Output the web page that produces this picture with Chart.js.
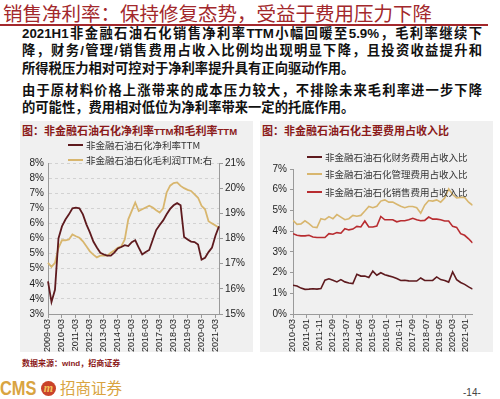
<!DOCTYPE html>
<html lang="zh-CN"><head><meta charset="utf-8">
<script src="https://cdn.jsdelivr.net/npm/chart.js@4.4.1/dist/chart.umd.min.js"></script>
<style>
html,body{margin:0;padding:0;background:#fff;width:500px;height:399px;overflow:hidden;position:relative;font-family:"Liberation Sans","Noto Sans CJK SC",sans-serif;}
.abs{position:absolute;white-space:nowrap;}
#title{left:3px;top:1px;font-size:19.5px;color:#A3282C;font-family:"Noto Sans CJK SC";line-height:24px;}
#rule{position:absolute;left:0;top:24px;width:488px;height:1.5px;background:#A3282C;}
.body{position:absolute;left:22px;width:460px;font-size:13.3px;font-weight:bold;color:#111;line-height:17px;font-family:"Liberation Sans","Noto Sans CJK SC",sans-serif;}
.just{text-align:justify;text-align-last:justify;}
.panel{position:absolute;top:121px;width:233px;height:231px;background:#f0f0f0;}
.ptitle{position:absolute;top:124px;font-size:11px;font-weight:bold;color:#8B1A1A;line-height:14px;white-space:nowrap;}
.ptitle .t{font-size:9.5px;}
.leg{position:absolute;font-size:9.5px;color:#333;line-height:12px;white-space:nowrap;font-family:"Noto Sans CJK SC","Liberation Sans",sans-serif;}
.leg i{display:inline-block;width:15px;height:2px;vertical-align:middle;margin-right:3px;position:relative;top:-1px;}
canvas{position:absolute;}
#src{left:22px;top:358px;font-size:8px;font-weight:bold;color:#8B1A1A;line-height:11px;}
#cms{left:0;top:376px;font-size:21px;font-weight:bold;color:#D9A441;line-height:24px;transform:scaleX(0.78);transform-origin:left center;}
#logo{position:absolute;left:41px;top:381px;width:15px;height:15px;border-radius:50%;background:#C9432A;color:#F3C35B;font-size:12px;line-height:14px;text-align:center;font-style:italic;font-weight:bold;font-family:"Liberation Serif",serif;}
#cmscn{left:60px;top:377px;font-size:15.5px;color:#D9A441;line-height:20px;font-family:"Noto Sans CJK SC";}
#page{left:463px;top:386px;font-size:10px;color:#444;line-height:14px;}
</style></head>
<body>
<div id="title" class="abs">销售净利率：保持修复态势，受益于费用压力下降</div>
<div id="rule"></div>
<div class="body just" style="top:24.5px">2021H1非金融石油石化销售净利率TTM小幅回暖至5.9%，毛利率继续下</div>
<div class="body just" style="top:42px">降，财务/管理/销售费用占收入比例均出现明显下降，且投资收益提升和</div>
<div class="body" style="top:59.5px">所得税压力相对可控对于净利率提升具有正向驱动作用。</div>
<div class="body just" style="top:81.5px">由于原材料价格上涨带来的成本压力较大，不排除未来毛利率进一步下降</div>
<div class="body" style="top:99px">的可能性，费用相对低位为净利率带来一定的托底作用。</div>

<div class="panel" style="left:20px"></div>
<div class="panel" style="left:260px"></div>
<div class="ptitle" style="left:22px">图：非金融石油石化净利率<span class="t">TTM</span>和毛利率<span class="t">TTM</span></div>
<div class="ptitle" style="left:262px">图：非金融石油石化主要费用占收入比</div>

<canvas id="cL" width="233" height="212" style="left:20px;top:140px"></canvas>
<canvas id="cR" width="233" height="212" style="left:260px;top:140px"></canvas>

<div class="leg" style="left:68px;top:139px"><i style="background:#5E1A1E"></i>非金融石油石化净利率TTM</div>
<div class="leg" style="left:68px;top:154px"><i style="background:#D8B66E"></i>非金融石油石化毛利润TTM:右</div>
<div class="leg" style="left:307px;top:151px"><i style="background:#5E1A1E"></i>非金融石油石化财务费用占收入比</div>
<div class="leg" style="left:307px;top:168px"><i style="background:#D8B66E"></i>非金融石油石化管理费用占收入比</div>
<div class="leg" style="left:307px;top:186px"><i style="background:#B82C30"></i>非金融石油石化销售费用占收入比</div>

<div id="src" class="abs">数据来源：wind，招商证券</div>
<div id="cms" class="abs">CMS</div>
<div id="logo">m</div>
<div id="cmscn" class="abs">招商证券</div>
<div id="page" class="abs">-14-</div>

<script>
// ---- Left chart data (quarterly) ----
const leftQuarters = ['2009-03','2009-06','2009-09','2009-12','2010-03','2010-06','2010-09','2010-12',
 '2011-03','2011-06','2011-09','2011-12','2012-03','2012-06','2012-09','2012-12',
 '2013-03','2013-06','2013-09','2013-12','2014-03','2014-06','2014-09','2014-12',
 '2015-03','2015-06','2015-09','2015-12','2016-03','2016-06','2016-09','2016-12',
 '2017-03','2017-06','2017-09','2017-12','2018-03','2018-06','2018-09','2018-12',
 '2019-03','2019-06','2019-09','2019-12','2020-03','2020-06','2020-09','2020-12',
 '2021-03','2021-06'];
const netMarginTTM = [4.08,3.40,3.80,5.50,5.90,6.13,6.30,6.50,
 6.52,6.50,6.30,5.97,5.70,5.40,5.20,5.03,
 4.97,4.93,4.93,5.03,5.17,5.22,5.28,5.25,
 5.38,5.44,5.20,4.97,5.05,5.12,5.45,5.78,
 5.95,6.10,6.30,6.48,6.60,6.67,6.60,5.55,
 5.47,5.40,5.38,5.30,4.80,4.86,5.05,5.20,
 5.60,5.90];
const grossMarginTTM = [17.03,16.87,17.03,17.63,17.93,17.93,17.96,18.16,
 18.09,18.03,17.89,17.69,17.49,17.36,17.25,17.32,
 17.32,17.32,17.43,17.52,17.63,17.69,17.96,18.76,
 19.10,19.43,19.09,19.16,19.23,19.30,19.23,19.12,
 19.03,19.20,19.83,20.10,20.20,20.23,20.09,20.00,
 19.93,19.89,19.75,19.62,19.30,19.16,18.69,18.60,
 18.52,18.43];
const leftTickLabels = ['2009-03','2010-03','2011-03','2012-03','2013-03','2014-03','2015-03',
 '2016-03','2017-03','2018-03','2019-03','2020-03','2021-03'];

// ---- Right chart data (quarterly, monthly date axis) ----
const rightQuarters = ['2010-03','2010-06','2010-09','2010-12','2011-03','2011-06','2011-09','2011-12',
 '2012-03','2012-06','2012-09','2012-12','2013-03','2013-06','2013-09','2013-12',
 '2014-03','2014-06','2014-09','2014-12','2015-03','2015-06','2015-09','2015-12',
 '2016-03','2016-06','2016-09','2016-12','2017-03','2017-06','2017-09','2017-12',
 '2018-03','2018-06','2018-09','2018-12','2019-03','2019-06','2019-09','2019-12',
 '2020-03','2020-06','2020-09','2020-12','2021-03','2021-06'];
const financeExpRatio = [1.39,1.35,1.25,1.19,1.20,1.22,1.20,1.23,
 1.63,1.70,1.63,1.55,1.66,1.55,1.50,1.47,
 1.92,1.83,1.83,1.76,2.07,1.87,1.99,1.90,
 1.84,1.79,1.71,1.62,1.63,1.60,1.59,1.59,
 1.74,1.62,1.62,1.62,1.79,1.66,1.62,1.54,
 2.03,1.66,1.52,1.43,1.31,1.20];
const adminExpRatio = [4.52,4.33,4.35,4.50,4.36,4.20,4.17,4.60,
 4.55,4.70,4.60,4.80,4.68,4.55,4.60,4.76,
 4.72,4.76,4.97,5.19,5.13,5.20,5.45,5.51,
 5.40,5.40,5.30,5.20,5.13,5.19,5.19,5.13,
 4.87,5.25,5.48,5.45,5.51,5.40,5.60,6.04,
 5.77,5.60,5.63,5.63,5.40,5.25];
const salesExpRatio = [3.88,3.80,3.77,3.77,3.80,3.72,3.69,3.69,
 3.69,3.88,3.85,3.93,3.90,4.12,4.06,4.10,
 4.23,4.20,4.49,4.20,4.20,4.25,4.71,4.55,
 4.55,4.55,4.45,4.50,4.50,4.55,4.62,4.55,
 4.50,4.52,4.68,4.58,4.58,4.55,4.49,4.49,
 4.23,4.18,3.88,3.80,3.63,3.43];
const rightTickLabels = ['2010-03','2011-01','2011-11','2012-09','2013-07','2014-05','2015-03',
 '2016-01','2016-11','2017-09','2018-07','2019-05','2020-03','2021-01'];

const C_NET = '#5E1A1E', C_GOLD = '#D8B66E', C_RED = '#B82C30';
const tickFont = {family:'"Liberation Sans", Arial, sans-serif', size:10};
const xFont = {family:'"Liberation Sans", Arial, sans-serif', size:9};
const AX = '#9a9a9a';

new Chart(document.getElementById('cL'), {
  type:'line',
  data:{labels:leftQuarters, datasets:[
    {label:'非金融石油石化净利率TTM', data:netMarginTTM, borderColor:C_NET, borderWidth:1.8, pointRadius:0, yAxisID:'y', tension:0},
    {label:'非金融石油石化毛利润TTM:右', data:grossMarginTTM, borderColor:C_GOLD, borderWidth:1.8, pointRadius:0, yAxisID:'y1', tension:0}
  ]},
  options:{
    responsive:false, animation:false, devicePixelRatio:1,
    layout:{padding:{top:23,left:0,right:0,bottom:0}},
    plugins:{legend:{display:false}, tooltip:{enabled:false}},
    scales:{
      x:{type:'category', offset:false,
        grid:{display:true, drawOnChartArea:false, tickLength:4, color:AX},
        border:{color:AX},
        ticks:{autoSkip:false, maxRotation:90, minRotation:90, padding:1, font:xFont, color:'#222',
          callback:function(v){ const l=this.getLabelForValue(v); return leftTickLabels.includes(l) ? l : null; }},
        afterFit:s=>{s.height=38;}
      },
      y:{position:'left', min:3, max:8,
        ticks:{stepSize:0.5, callback:v=>Math.round(v)+'%', padding:4, font:tickFont, color:'#222'},
        grid:{color:'#d2d2d2', drawTicks:false},
        border:{color:AX, dash:[3,3]},
        afterFit:s=>{s.width=28;}
      },
      y1:{position:'right', min:15, max:21,
        ticks:{stepSize:1, callback:v=>v+'%', padding:2, font:tickFont, color:'#222'},
        grid:{drawOnChartArea:false, tickLength:4, color:AX},
        border:{color:AX},
        afterFit:s=>{s.width=34;}
      }
    }
  }
});

function monthIndex(s){ const p=s.split('-'); return (parseInt(p[0])-2010)*12 + (parseInt(p[1])-3); }
const toXY = arr => rightQuarters.map((q,i)=>({x:monthIndex(q), y:arr[i]}));

new Chart(document.getElementById('cR'), {
  type:'line',
  data:{datasets:[
    {label:'非金融石油石化财务费用占收入比', data:toXY(financeExpRatio), borderColor:C_NET, borderWidth:1.6, pointRadius:0, tension:0},
    {label:'非金融石油石化管理费用占收入比', data:toXY(adminExpRatio), borderColor:C_GOLD, borderWidth:1.6, pointRadius:0, tension:0},
    {label:'非金融石油石化销售费用占收入比', data:toXY(salesExpRatio), borderColor:C_RED, borderWidth:1.6, pointRadius:0, tension:0}
  ]},
  options:{
    responsive:false, animation:false, devicePixelRatio:1,
    layout:{padding:{top:29,left:0,right:20.4,bottom:0}},
    plugins:{legend:{display:false}, tooltip:{enabled:false}},
    scales:{
      x:{type:'linear', min:monthIndex(rightQuarters[0]), max:monthIndex(rightQuarters[rightQuarters.length-1]),
        afterBuildTicks:a=>{ a.ticks = rightTickLabels.map(l=>({value:monthIndex(l)})); },
        grid:{display:true, drawOnChartArea:false, tickLength:4, color:AX},
        border:{color:AX},
        ticks:{autoSkip:false, maxRotation:90, minRotation:90, padding:1, font:xFont, color:'#222',
          callback:v=>{ const l=rightTickLabels.find(t=>monthIndex(t)===v); return l||null; }},
        afterFit:s=>{s.height=38;}
      },
      y:{min:0, max:7,
        ticks:{stepSize:1, callback:v=>v+'%', padding:3, font:tickFont, color:'#222'},
        grid:{drawOnChartArea:false, tickLength:3, color:AX},
        border:{color:AX},
        afterFit:s=>{s.width=33;}
      }
    }
  }
});
</script>
</body></html>
